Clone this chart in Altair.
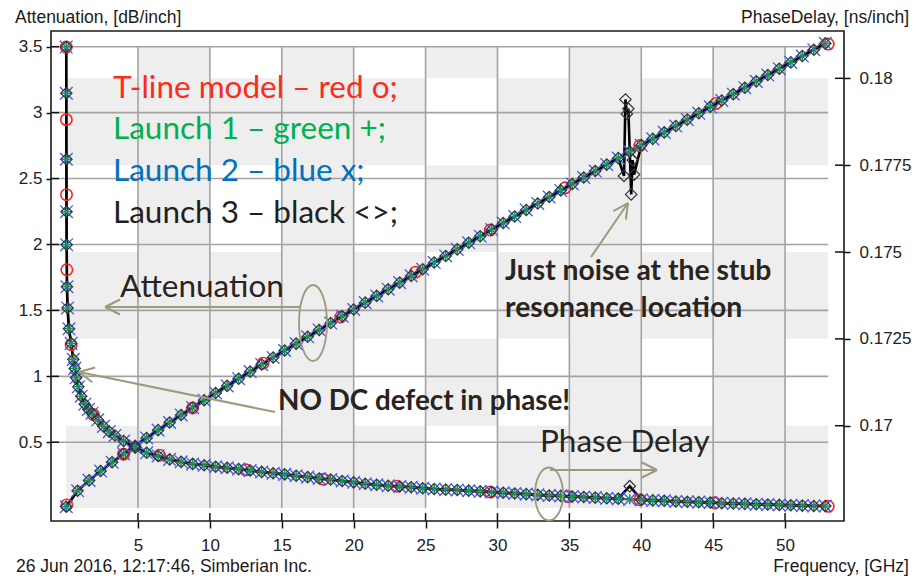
import altair as alt
import pandas as pd

# ---------------- data ----------------
# attenuation curve (left axis), measured launches
att_freq = [0.01, 0.8, 1.6, 2.4, 3.2,
            4.0, 4.8, 5.6, 6.4, 7.2, 8.0, 8.8, 9.6, 10.4, 11.2, 12.0, 12.8, 13.6, 14.4, 15.2, 16.0, 16.8, 17.6, 18.4,
            19.2, 20.0, 20.8, 21.6, 22.4, 23.2, 24.0, 24.8, 25.6, 26.4, 27.2, 28.0, 28.8, 29.6, 30.4, 31.2, 32.0,
            32.8, 33.6, 34.4, 35.2, 36.0, 36.8, 37.6, 38.4, 39.2, 40.0, 40.8, 41.6, 42.4, 43.2, 44.0, 44.8, 45.6,
            46.4, 47.2, 48.0, 48.8, 49.6, 50.4, 51.2, 52.0, 52.8]
atten = [0.011, 0.132, 0.211, 0.282, 0.349,
         0.412, 0.474, 0.533, 0.592, 0.650, 0.707, 0.763, 0.819, 0.874, 0.928, 0.982, 1.036, 1.090, 1.143, 1.196,
         1.248, 1.300, 1.352, 1.404, 1.456, 1.507, 1.559, 1.610, 1.661, 1.711, 1.762, 1.812, 1.863, 1.913, 1.963,
         2.013, 2.063, 2.113, 2.163, 2.212, 2.262, 2.311, 2.360, 2.410, 2.459, 2.508, 2.557, 2.606, 2.655, 2.704,
         2.752, 2.801, 2.850, 2.898, 2.947, 2.995, 3.044, 3.092, 3.140, 3.189, 3.237, 3.285, 3.333, 3.381, 3.429,
         3.477, 3.525]

# phase delay curve (right axis), measured launches
pd_freq = [0.01, 0.015, 0.02, 0.03, 0.04, 0.06, 0.1, 0.2, 0.35, 0.5, 0.6, 0.7, 0.85, 1.05, 1.3, 1.55, 1.8, 2.2, 2.6,
           3.0, 3.4,
           4.0, 4.8, 5.6, 6.4, 7.2, 8.0, 8.8, 9.6, 10.4, 11.2, 12.0, 12.8, 13.6, 14.4, 15.2, 16.0, 16.8, 17.6, 18.4,
           19.2, 20.0, 20.8, 21.6, 22.4, 23.2, 24.0, 24.8, 25.6, 26.4, 27.2, 28.0, 28.8, 29.6, 30.4, 31.2, 32.0,
           32.8, 33.6, 34.4, 35.2, 36.0, 36.8, 37.6, 38.4, 39.2, 40.0, 40.8, 41.6, 42.4, 43.2, 44.0, 44.8, 45.6,
           46.4, 47.2, 48.0, 48.8, 49.6, 50.4, 51.2, 52.0, 52.8]
pdelay = [0.18090, 0.17957, 0.17767, 0.17616, 0.17521, 0.17400, 0.17339, 0.17279, 0.17237, 0.17191, 0.17165,
          0.17138, 0.17112, 0.17085, 0.17062, 0.17047, 0.17036, 0.17017, 0.16998, 0.16983, 0.16972,
          0.16956, 0.16937, 0.16922, 0.16913, 0.16903, 0.16896, 0.16890, 0.16886, 0.16882, 0.16879, 0.16875,
          0.16871, 0.16867, 0.16863, 0.16860, 0.16856, 0.16852, 0.16848, 0.16845, 0.16841, 0.16837, 0.16833,
          0.16830, 0.16827, 0.16825, 0.16823, 0.16820, 0.16818, 0.16816, 0.16815, 0.16813, 0.16811, 0.16809,
          0.16807, 0.16805, 0.16803, 0.16801, 0.16799, 0.16798, 0.16796, 0.16795, 0.16793, 0.16791, 0.16790,
          0.16788, 0.16787, 0.16785, 0.16784, 0.16782, 0.16781, 0.16780, 0.16779, 0.16777, 0.16776, 0.16775,
          0.16774, 0.16773, 0.16772, 0.16771, 0.16770, 0.16769, 0.16769]

# T-line model marker positions
model_att_freq = [0.05, 4.0, 8.8, 13.7, 19.1, 24.3, 29.5, 34.7, 39.9, 45.2, 53.0]
model_att = [0.025, 0.41, 0.76, 1.10, 1.45, 1.79, 2.11, 2.43, 2.75, 3.07, 3.52]
model_pd_freq = [0.01, 0.017, 0.027, 0.052, 0.35, 1.9, 6.5, 12.5, 17.9, 23.0, 29.5, 34.9, 39.9, 45.1, 53.0]
model_pd = [0.18090, 0.17881, 0.17665, 0.17449, 0.17233, 0.17032, 0.16915, 0.16873, 0.16846, 0.16826,
            0.16809, 0.16796, 0.16787, 0.16778, 0.16768]

# launch 3 noise near the stub resonance
l3_att_extra_freq = [38.8, 38.9, 39.0, 39.1, 39.3, 39.4, 39.5]
l3_att_extra = [2.52, 3.10, 2.99, 3.03, 2.38, 2.64, 2.53]
l3_pd_spike_freq = [39.2]
l3_pd_spike = [0.16826]

x_ticks = [5, 10, 15, 20, 25, 30, 35, 40, 45, 50]
att_ticks = [0.5, 1, 1.5, 2, 2.5, 3, 3.5]
pd_ticks = [0.17, 0.1725, 0.175, 0.1775, 0.18]
shade_cols = [0, 5, 10, 15, 20, 25, 30, 35, 40, 45, 50, 53]
shade_rows = [0.16763, 0.17, 0.1725, 0.175, 0.1775, 0.18, 0.18090]

# ---------------- layout constants ----------------
X_DOM = [-1.05, 54.1]
ATT_DOM = [-0.097, 3.619]
PD_DOM = [0.167257, 0.181362]
W, H = 793, 490
OX, OY = 51, 31
UI_FONT = "Liberation Sans"
NOTE_FONT = "Lato"
ARROW_C = "#9d9a7c"
NOTE_C = "#2a2420"

measA = pd.DataFrame({"f": att_freq, "att": atten})
measP = pd.DataFrame({"f": pd_freq, "pd": pdelay})
l3att = pd.DataFrame({"f": att_freq + l3_att_extra_freq, "att": atten + l3_att_extra}).sort_values("f")
l3pd = measP.copy()
for fq, v in zip(l3_pd_spike_freq, l3_pd_spike):
    l3pd.loc[(l3pd["f"] - fq).abs() < 1e-9, "pd"] = v
model_a = pd.DataFrame({"f": model_att_freq, "att": model_att})
model_p = pd.DataFrame({"f": model_pd_freq, "pd": model_pd})

# background shading pattern as seen in the reference
cells = []
for ci in range(len(shade_cols) - 1):
    for ri in range(len(shade_rows) - 1):
        if ri % 2 == 1:
            gray = ci % 2 == 1
        else:
            gray = ci != 5
        if gray:
            cells.append({"f": shade_cols[ci], "f2": shade_cols[ci + 1],
                          "p": shade_rows[ri], "p2": shade_rows[ri + 1]})
shade = pd.DataFrame(cells)
vgrid = pd.DataFrame({"f": x_ticks})
hgrid = pd.DataFrame({"att": att_ticks})
pdt = pd.DataFrame({"pd": pd_ticks})
one = pd.DataFrame({"k": [0]})

xaxis = alt.Axis(values=x_ticks, format="~g", title=None, grid=False, domain=False,
                 labelFont=UI_FONT, labelFontSize=17, labelColor="#222", tickColor="#111",
                 tickSize=7, tickWidth=1.5, labelPadding=9, labelFlush=False, labelOverlap=False)
xscale = alt.Scale(domain=X_DOM, nice=False, zero=False)
ascale = alt.Scale(domain=ATT_DOM, nice=False, zero=False)
pscale = alt.Scale(domain=PD_DOM, nice=False, zero=False)


def X(field="f"):
    return alt.X(f"{field}:Q", scale=xscale, axis=xaxis)


def YA(field="att", axis=None):
    return alt.Y(f"{field}:Q", scale=ascale, axis=axis)


def YP(field="pd", axis=None):
    return alt.Y(f"{field}:Q", scale=pscale, axis=axis)


left_axis = alt.Axis(values=att_ticks, labelExpr="format(datum.value, '.1~f')", title=None, grid=False,
                     domain=False, orient="left",
                     labelFont=UI_FONT, labelFontSize=17, labelColor="#222", tickColor="#111",
                     tickSize=5, tickWidth=1.5, labelPadding=4, labelFlush=False, labelOverlap=False)
right_axis = alt.Axis(values=pd_ticks, labelExpr="format(datum.value, '.4~f')", title=None, grid=False,
                      domain=False, orient="right",
                      labelFont=UI_FONT, labelFontSize=17, labelColor="#222", tickColor="#111",
                      tickSize=6, tickWidth=1.5, labelPadding=9, labelFlush=False, labelOverlap=False)

layers = []
# background shading
layers.append(alt.Chart(shade).mark_rect(color="#eeeeee").encode(
    x=X("f"), x2="f2:Q", y=YP("p"), y2="p2:Q"))
# grid lines
layers.append(alt.Chart(vgrid).mark_rule(color="#a3a3a3", strokeWidth=1.6).encode(
    x=X("f"), y=alt.YDatum(3.5, scale=ascale, axis=None), y2=alt.Y2Datum(0)))
layers.append(alt.Chart(hgrid).mark_rule(color="#a3a3a3", strokeWidth=1.6).encode(
    y=YA("att"), x=alt.XDatum(X_DOM[0], scale=xscale, axis=xaxis), x2=alt.X2Datum(53)))
# inner halves of the crossing ticks
layers.append(alt.Chart(hgrid).mark_rule(color="#111", strokeWidth=1.5).encode(
    y=YA("att"), x=alt.value(0), x2=alt.value(8)))
layers.append(alt.Chart(vgrid).mark_rule(color="#111", strokeWidth=1.5).encode(
    x=X("f"), y=alt.value(H), y2=alt.value(H - 8)))
layers.append(alt.Chart(pdt).mark_rule(color="#111", strokeWidth=1.5).encode(
    y=YP("pd"), x=alt.value(W), x2=alt.value(W - 9)))

# lines (model line drawn along the measured curve)
RED, GREEN, BLUE, BLACK = "#ff2020", "#00a332", "#2f46ff", "#000000"
for col, w in [(RED, 2.2), (BLUE, 1.5), (GREEN, 1.5)]:
    layers.append(alt.Chart(measA).mark_line(color=col, strokeWidth=w).encode(x=X(), y=YA()))
    layers.append(alt.Chart(measP).mark_line(color=col, strokeWidth=w).encode(x=X(), y=YP()))
layers.append(alt.Chart(l3att).mark_line(color=BLACK, strokeWidth=2.6).encode(x=X(), y=YA(axis=left_axis)))
layers.append(alt.Chart(l3pd).mark_line(color=BLACK, strokeWidth=2.6).encode(x=X(), y=YP(axis=right_axis)))

# markers
XSHAPE = "M-1,-1L1,1M-1,1L1,-1"
PLUS = "M-1,0L1,0M0,-1L0,1"
layers.append(alt.Chart(model_a).mark_point(shape="circle", filled=False, color=RED, size=130, strokeWidth=1.6,
                                            opacity=1).encode(x=X(), y=YA()))
layers.append(alt.Chart(model_p).mark_point(shape="circle", filled=False, color=RED, size=130, strokeWidth=1.6,
                                            opacity=1).encode(x=X(), y=YP()))
for src, enc in [(measA, YA), (measP, YP)]:
    layers.append(alt.Chart(src).mark_point(shape=XSHAPE, filled=False, color="#3a5cff", size=160,
                                            strokeWidth=1.3, opacity=1).encode(x=X(), y=enc()))
    layers.append(alt.Chart(src).mark_point(shape=PLUS, filled=False, color="#1a9a3a", size=100,
                                            strokeWidth=1.6, opacity=1).encode(x=X(), y=enc()))
layers.append(alt.Chart(l3att).mark_point(shape="diamond", filled=False, color="#333333", size=130,
                                          strokeWidth=1.2, opacity=1).encode(x=X(), y=YA()))
layers.append(alt.Chart(l3pd).mark_point(shape="diamond", filled=False, color="#333333", size=130,
                                         strokeWidth=1.2, opacity=1).encode(x=X(), y=YP()))


# ---------------- annotations (absolute page pixels) ----------------
def note(s, x, y, color, size, weight="normal", font=NOTE_FONT, align="left"):
    return alt.Chart(one).mark_text(text=s, align=align, baseline="alphabetic", font=font, fontSize=size,
                                    fontWeight=weight, color=color).encode(
        x=alt.value(x - OX), y=alt.value(y - OY))


def seg(x1, y1, x2, y2):
    return alt.Chart(one).mark_rule(color=ARROW_C, strokeWidth=2).encode(
        x=alt.value(x1 - OX), y=alt.value(y1 - OY), x2=alt.value(x2 - OX), y2=alt.value(y2 - OY))


HEAD = "M0,0L1,-0.5M0,0L1,0.5"


def head(x, y, ang):
    return alt.Chart(one).mark_point(shape=HEAD, filled=False, color=ARROW_C, size=900, strokeWidth=2,
                                     angle=ang, opacity=1).encode(x=alt.value(x - OX), y=alt.value(y - OY))


def ellipse(x, y, rx, ry):
    ratio = round(rx / ry, 3)
    path = f"M0,-1A{ratio},1,0,1,1,0,1A{ratio},1,0,1,1,0,-1"
    return alt.Chart(one).mark_point(shape=path, filled=False, color=ARROW_C, size=(2 * ry) ** 2,
                                     strokeWidth=1.8, opacity=1).encode(x=alt.value(x - OX), y=alt.value(y - OY))


layers += [
    note("T-line model \u2013 red o;", 113, 98, "#ff2a1a", 31.5),
    note("Launch 1 \u2013 green +;", 113, 139, "#00b050", 31.5),
    note("Launch 2 \u2013 blue x;", 113, 181, "#0070c0", 31.5),
    note("Launch 3 \u2013 black <>;", 113, 223, "#231f20", 31.5),
    note("Attenuation", 120, 297, NOTE_C, 31.5),
    note("Phase Delay", 540, 452, NOTE_C, 31.5),
    note("NO DC defect in phase!", 278, 410, NOTE_C, 27.8, "bold"),
    note("Just noise at the stub", 505, 280, NOTE_C, 28.3, "bold"),
    note("resonance location", 505, 317, NOTE_C, 28.3, "bold"),
    seg(300, 307, 105, 307), head(105, 307, 0),
    seg(275, 412, 79, 372), head(79, 372, 11),
    seg(591, 257, 628, 203), head(628, 203, 124),
    seg(550, 470, 657, 470), head(657, 470, 180),
    ellipse(313, 323, 14, 38),
    ellipse(549, 494, 14, 26.5),
    note("Attenuation, [dB/inch]", 15, 23, "#1a1a1a", 17.5, font=UI_FONT),
    note("PhaseDelay, [ns/inch]", 909, 23, "#1a1a1a", 17.5, font=UI_FONT, align="right"),
    note("26 Jun 2016, 12:17:46, Simberian Inc.", 16, 572, "#1a1a1a", 17.5, font=UI_FONT),
    note("Frequency, [GHz]", 909, 572, "#1a1a1a", 17.5, font=UI_FONT, align="right"),
]

chart = alt.layer(*layers).resolve_scale(y="independent").properties(
    width=W, height=H,
    padding={"left": OX, "top": OY, "right": 914 - OX - W, "bottom": 578 - OY - H},
    autosize=alt.AutoSizeParams(type="none"),
).configure(background="white").configure_view(stroke="#1a1a1a", strokeWidth=1.6)

chart.save("out.html", embed_options={"renderer": "svg", "actions": False})
